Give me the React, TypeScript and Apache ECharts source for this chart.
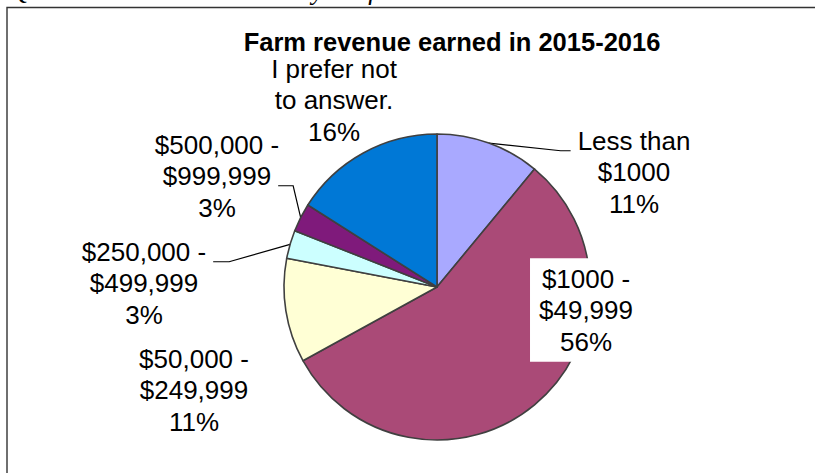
import React, { useEffect, useRef } from "react";
import * as echarts from "echarts";

const categories = [
  "Less than\n$1000",
  "$1000 -\n$49,999",
  "$50,000 -\n$249,999",
  "$250,000 -\n$499,999",
  "$500,000 -\n$999,999",
  "I prefer not\nto answer.",
];
const values = [11, 56, 11, 3, 3, 16];
const sliceColors = ["#A9A9FF", "#AA4A77", "#FFFFD5", "#CCFFFF", "#7F1A7B", "#0078D6"];
const titleText = "Farm revenue earned in 2015-2016";
const questionText = "Q2. How much revenue did your farm earn in 2015-2016?";

const FONT = "'Liberation Sans', Arial, Helvetica, sans-serif";

// label block centres (layout only)
const labelCenters: number[][] = [
  [634, 172],
  [586, 310],
  [194, 390],
  [144, 283],
  [217, 176],
  [334, 100],
];
const withLeader = [true, false, false, true, true, false];

export default function App() {
  const ref = useRef<HTMLDivElement>(null);

  useEffect(() => {
    if (!ref.current) return;
    const chart = echarts.init(ref.current, undefined, { renderer: "svg" });

    const data = categories.map((name, i) => {
      const item: any = {
        name,
        value: values[i],
        itemStyle: { color: sliceColors[i] },
        labelLine: { show: withLeader[i] },
      };
      if (i === 1) {
        item.label = { backgroundColor: "#ffffff", padding: [5, 9, 4, 9] };
      }
      return item;
    });

    chart.setOption({
      animation: false,
      backgroundColor: "#ffffff",
      title: {
        text: titleText,
        left: 452,
        top: 29,
        padding: 0,
        textAlign: "center",
        textStyle: { fontSize: 25.5, fontWeight: "bold", color: "#000", fontFamily: FONT },
      },
      graphic: [
        {
          type: "text",
          x: 10,
          y: -10,
          silent: true,
          style: {
            text: questionText,
            fill: "#000",
            font: "italic 27px 'Liberation Serif', 'Times New Roman', serif",
            verticalAlign: "middle",
          },
        },
        {
          type: "polyline",
          silent: true,
          shape: { points: [[7, 473], [7, 7.5], [815, 7.5]] },
          style: { stroke: "#333333", lineWidth: 1.4, fill: "none" },
        },
      ],
      series: [
        {
          type: "pie",
          center: [437, 287],
          radius: 153,
          startAngle: 90,
          clockwise: true,
          avoidLabelOverlap: false,
          percentPrecision: 0,
          emphasis: { disabled: true },
          itemStyle: { borderColor: "#404040", borderWidth: 1.6 },
          label: {
            show: true,
            position: "outside",
            formatter: "{b}\n{d}%",
            fontSize: 26,
            lineHeight: 31.5,
            color: "#000",
            fontFamily: FONT,
            align: "center",
          },
          labelLine: {
            show: true,
            length: 10,
            length2: 10,
            lineStyle: { color: "#000", width: 1.2 },
          },
          labelLayout: (p: any) => {
            const i = p.dataIndex;
            const [cx, cy] = labelCenters[i];
            const out: any = { x: cx, y: cy, align: "center", verticalAlign: "middle" };
            const pts = p.labelLinePoints;
            if (withLeader[i] && pts && pts.length) {
              const start = pts[0];
              const w = p.labelRect.width;
              const h = p.labelRect.height;
              const left = cx - w / 2;
              const right = cx + w / 2;
              const top = cy - h / 2;
              let end: number[];
              let mid: number[];
              if (i === 0) {
                end = [left - 7, top + 26];
                mid = [end[0] - 10, end[1]];
              } else if (i === 3) {
                end = [right + 7, top + 26];
                mid = [end[0] + 16, end[1]];
              } else {
                end = [right - 1, top + 57];
                mid = [end[0] + 15, end[1]];
              }
              out.labelLinePoints = [start, mid, end];
            }
            return out;
          },
          data,
        },
      ],
    });

    return () => chart.dispose();
  }, []);

  return (
    <div
      ref={ref}
      style={{ position: "fixed", left: 0, top: 0, width: 815, height: 473, background: "#fff" }}
    />
  );
}
